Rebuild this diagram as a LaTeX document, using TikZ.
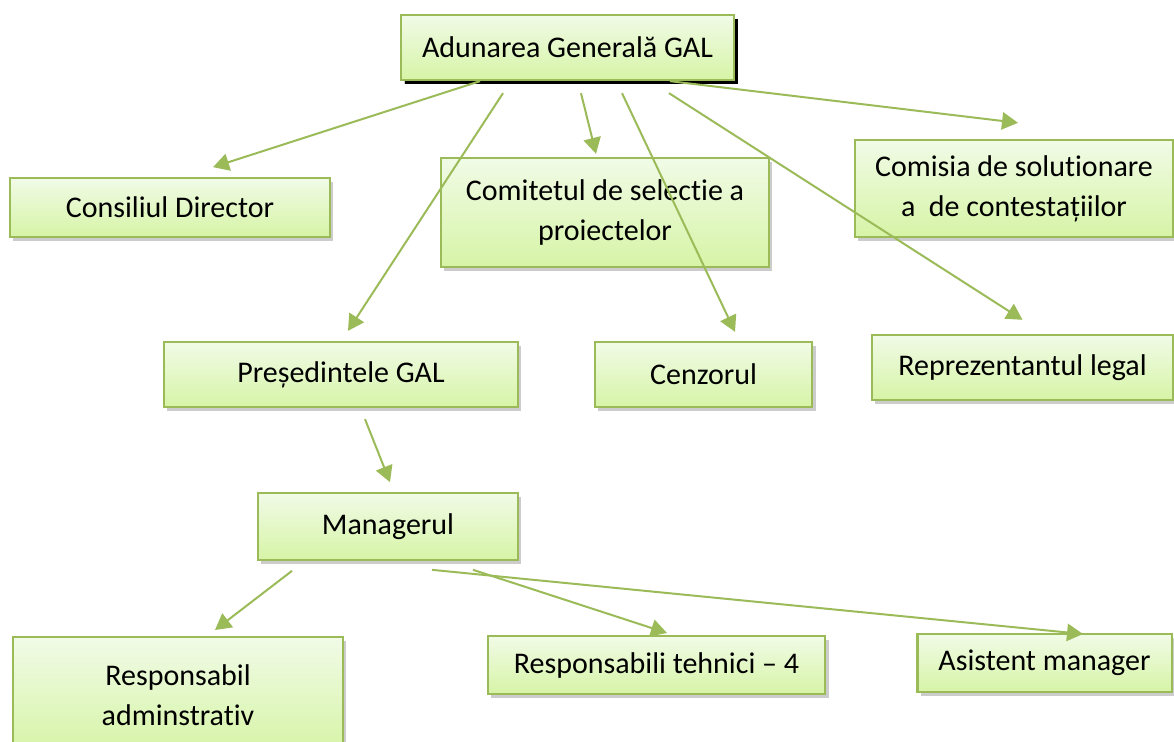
\documentclass[tikz,border=0pt]{standalone}
\usepackage{fontspec}
\setmainfont{Carlito}[Ligatures={NoCommon,NoRare,NoHistoric}, Contextuals={NoAlternate}]
\usepackage{tikz}
\usetikzlibrary{arrows.meta,shadows}
\definecolor{galline}{HTML}{9BBB59}
\definecolor{galtop}{HTML}{F1FBE7}
\definecolor{galbot}{HTML}{D6F4A6}

\begin{document}
\begin{tikzpicture}
    [x=0.75pt, y=-0.75pt,
      galbox/.style={draw=galline, line width=1.5pt, top color=galtop, bottom color=galbot,
        align=center, inner sep=0pt, font=\fontsize{22.5}{30}\selectfont,
        drop shadow={fill=black!25, shadow xshift=2.5pt, shadow yshift=-3pt, opacity=0.8},
        path picture={\draw[galline, line width=2.2pt]
          (path picture bounding box.south west) -- (path picture bounding box.north west);}},
      galarrow/.style={draw=galline, line width=1.5pt, -{Triangle[length=12pt, width=13pt]}}]
    \useasboundingbox (0,0) rectangle (1174,742);
    \node[galbox, minimum width=250pt, minimum height=49pt,
      drop shadow={fill=black, shadow xshift=3pt, shadow yshift=-3pt, opacity=1}]
      (adunare) at (567.5,47.5) {Adunarea Generală GAL};
    \node[galbox, minimum width=240pt, minimum height=44pt] (consiliu) at (170,207.5) {Consiliul Director};
    \node[galbox, minimum width=246pt, minimum height=82pt] (comitet) at (605,212.5) {Comitetul de selectie a\\proiectelor};
    \node[galbox, minimum width=238.5pt, minimum height=73pt] (comisie) at (1014,188.5) {Comisia de solutionare\\a \ de contestațiilor};
    \node[galbox, minimum width=265.5pt, minimum height=49pt] (presedinte) at (341,374.5) {Președintele GAL};
    \node[galbox, minimum width=163pt, minimum height=49pt] (cenzor) at (703.5,374.5) {Cenzorul};
    \node[galbox, minimum width=226pt, minimum height=49pt] (reprezentant) at (1022.5,367.5) {Reprezentantul legal};
    \node[galbox, minimum width=195pt, minimum height=50pt] (manager) at (388,526.5) {Managerul};
    \node[galbox, minimum width=247.5pt, minimum height=87pt] (respadm) at (178,695) {Responsabil\\adminstrativ};
    \node[galbox, minimum width=253pt, minimum height=43.5pt] (resptehn) at (656.5,665) {Responsabili tehnici – 4};
    \node[galbox, minimum width=191pt, minimum height=43.5pt] (asistent) at (1044.5,663) {Asistent manager};
    % legaturi
    \draw[galarrow] ([shift={(-87.5,0)}]adunare.south) -- ([shift={(43,-10)}]consiliu.north);
    \draw[galarrow] ([shift={(-64.5,12)}]adunare.south) -- ([shift={(7,-10)}]presedinte.north);
    \draw[galarrow] ([shift={(13.5,12)}]adunare.south) -- ([shift={(-9,-3)}]comitet.north);
    \draw[galarrow] ([shift={(54.5,12)}]adunare.south) -- ([shift={(31.5,-9)}]cenzor.north);
    \draw[galarrow] ([shift={(101.5,12)}]adunare.south) -- ([shift={(0,-14)}]reprezentant.north);
    \draw[galarrow] ([shift={(102.5,0)}]adunare.south) -- ([shift={(4,-16)}]comisie.north);
    \draw[galarrow] ([shift={(24,11)}]presedinte.south) -- ([shift={(2,-10)}]manager.north);
    \draw[galarrow] ([shift={(-96,10)}]manager.south) -- ([shift={(37,-6)}]respadm.north);
    \draw[galarrow] ([shift={(85,9)}]manager.south) -- ([shift={(10.5,-2)}]resptehn.north);
    \draw[galarrow] ([shift={(44,9)}]manager.south) -- ([shift={(38.5,1)}]asistent.north);
  \end{tikzpicture}
\end{document}
